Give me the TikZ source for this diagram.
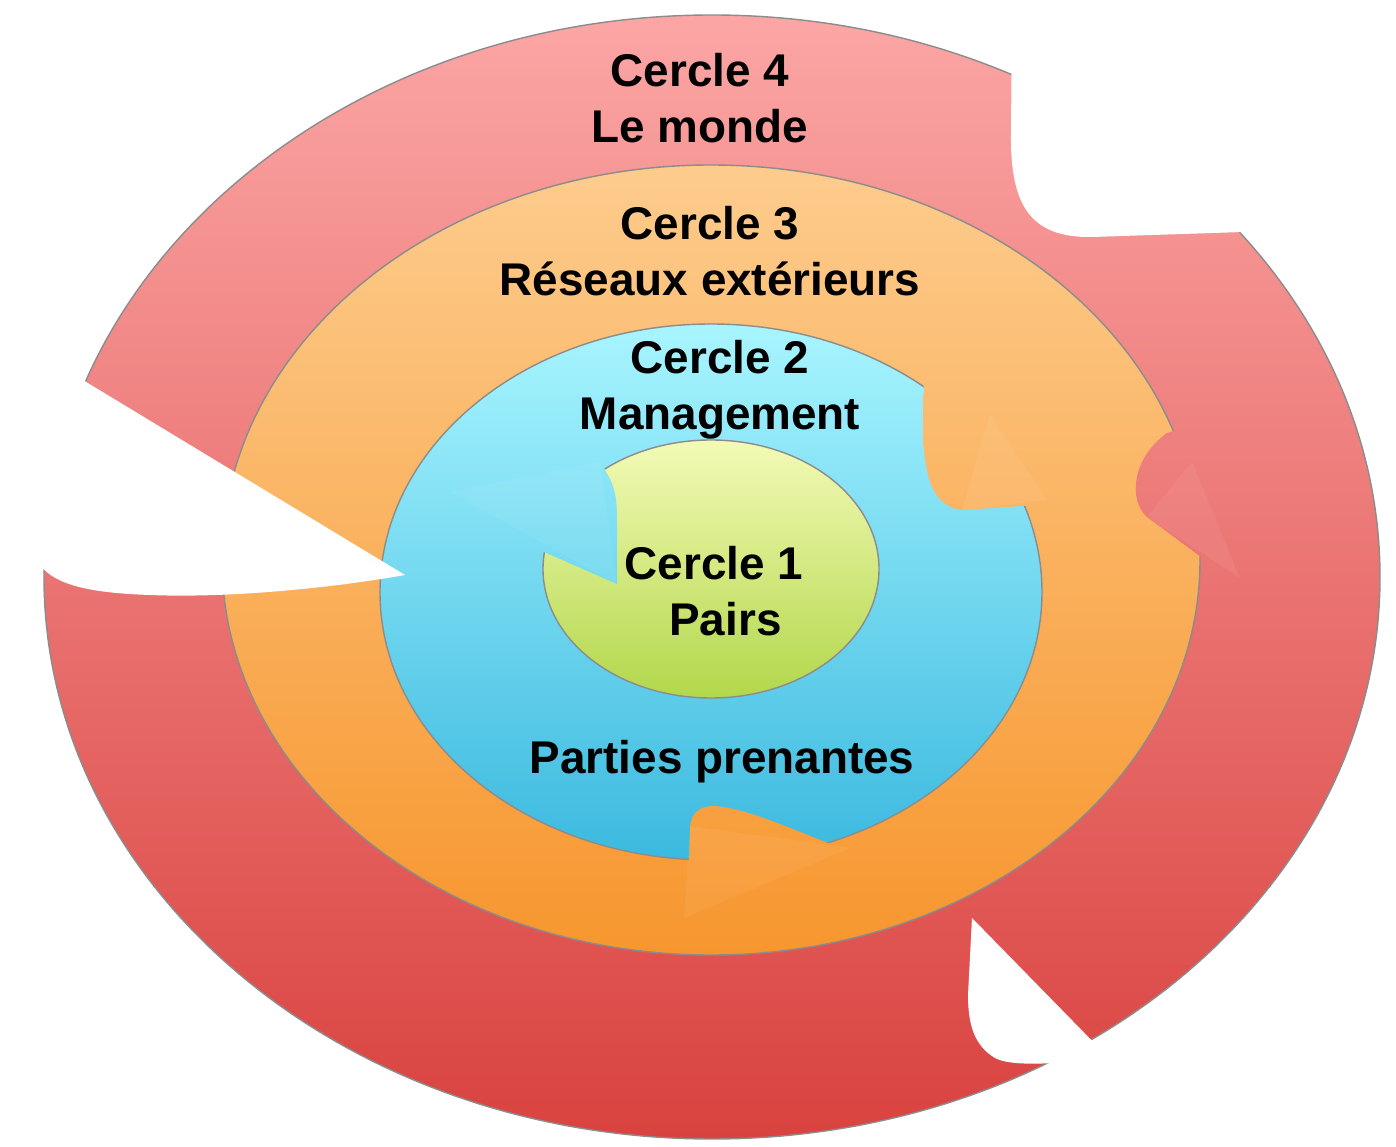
\documentclass[tikz,border=0pt]{standalone}
\usepackage{fontspec}
\setmainfont{Liberation Sans}
\usepackage{tikz}
\usetikzlibrary{positioning}

\definecolor{redtop}{HTML}{FBA6A5}
\definecolor{redbot}{HTML}{D9423F}
\definecolor{orangetop}{HTML}{FDCC8D}
\definecolor{orangebot}{HTML}{F7962E}
\definecolor{bluetop}{HTML}{A8F5FF}
\definecolor{bluebot}{HTML}{3BB9DF}
\definecolor{greentop}{HTML}{F3FAB6}
\definecolor{greenbot}{HTML}{B2D74B}

% the four rings, all in pixel units of the picture
\def\ringfour{(712,577) ellipse [x radius=668, y radius=562]}
\def\ringthree{(711,560) ellipse [x radius=489, y radius=395]}
\def\ringtwo{(711,592) ellipse [x radius=331, y radius=268]}
\def\ringone{(711,569) ellipse [x radius=168, y radius=129]}

\tikzset{
  redfill/.style={top color=redtop, bottom color=redbot},
  orangefill/.style={top color=orangetop, bottom color=orangebot},
  bluefill/.style={top color=bluetop, bottom color=bluebot},
  greenfill/.style={top color=greentop, bottom color=greenbot},
  rim/.style={draw=black!45, line width=0.4pt},
  gloss/.style={fill=white, fill opacity=0.06},
  ringtext/.style={font=\bfseries\fontsize{13}{15.8}\selectfont, align=center, inner sep=0pt}
}

\begin{document}
\begin{tikzpicture}[x=0.2835pt, y=-0.2835pt]
\useasboundingbox (0,0) rectangle (1396,1147);

% ---------- Cercle 4 and Cercle 3
\shade[redfill, rim] \ringfour;
\shade[orangefill, rim] \ringthree;

% red arrow head biting into the orange ring
\begin{scope}
\clip (1167,433) .. controls (1132,458) and (1128,500) .. (1147,517) -- (1205,560) -- (1270,560) -- (1270,400) -- cycle;
\shade[redfill] \ringfour;
\end{scope}
\fill[gloss] (1147,517) -- (1192,462) -- (1240,578) -- cycle;

% ---------- Cercle 2
\shade[bluefill, rim] \ringtwo;

% orange arrow heads biting into the blue ring
\begin{scope}
\clip (925,335) -- (923,430) .. controls (924,482) and (935,507) .. (962,510) -- (1065,503) -- (1065,335) -- cycle;
\shade[orangefill] \ringthree;
\end{scope}
\fill[gloss] (962,510) -- (990,415) -- (1047,500) -- cycle;
\begin{scope}
\clip (688,905) -- (690,826) .. controls (692,812) and (700,806) .. (714,806) .. controls (745,808) and (785,826) .. (845,850) -- (845,905) -- cycle;
\shade[orangefill] \ringthree;
\end{scope}
\fill[gloss] (690,826) -- (850,848) -- (684,918) -- cycle;

% white cut outs in the outer ring
\fill[white] (20,342) -- (405,575) .. controls (320,590) and (220,598) .. (150,595)
  .. controls (90,593) and (55,585) .. (40,565) -- cycle;
\fill[white] (1012,15) -- (1011,133) .. controls (1010,205) and (1030,238) .. (1092,237)
  -- (1243,232) -- (1330,222) -- (1330,15) -- cycle;
\fill[white] (972,918) -- (1106,1055) -- (1100,1061) .. controls (1050,1063) and (1012,1067) .. (995,1058)
  .. controls (975,1046) and (968,1026) .. (968,995) -- cycle;

% ---------- Cercle 1
\fill[gloss] (617,584) -- (450,492) -- (600,462) -- cycle;
\shade[greenfill, rim] \ringone;

% blue arrow head biting into the green ring
\begin{scope}
\clip (598,455) -- (606,472) .. controls (616,488) and (617,500) .. (617,522) -- (617,584) -- (535,548) -- (535,455) -- cycle;
\shade[bluefill] \ringtwo;
\fill[gloss] (617,584) -- (450,492) -- (600,462) -- cycle;
\end{scope}

% ---------- labels
\node[ringtext] (cercle4) at (700,98) {Cercle 4\\Le monde};
\node[ringtext] (cercle3) at (710,251) {Cercle 3\\Réseaux extérieurs};
\node[ringtext] (cercle2) at (720,390) {Cercle 2\\Management};
\node[ringtext] (cercle1) at (714,591) {Cercle 1\\\hspace*{0.5em}Pairs};
\node[ringtext] (parties) at (722,762) {Parties prenantes};
\end{tikzpicture}
\end{document}
